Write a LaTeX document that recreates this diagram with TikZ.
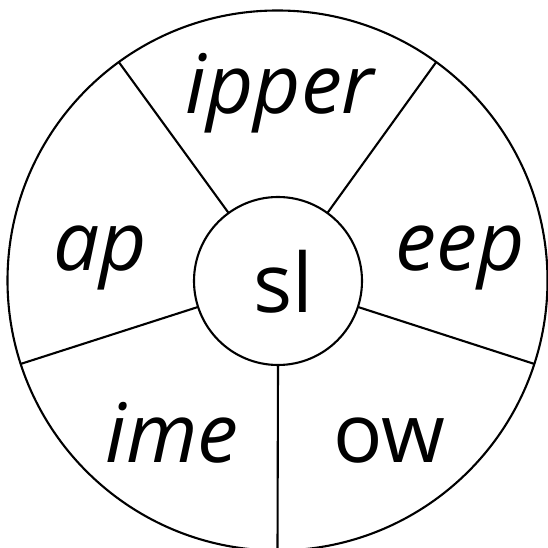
\documentclass[tikz,border=0pt]{standalone}
\usepackage{fontspec}
\setmainfont{Open Sans}
\usepackage{tikz}
\usetikzlibrary{shapes}

\begin{document}
\begin{tikzpicture}[x=1pt,y=1pt]
            \tikzstyle{wheel}=[circle, minimum size = 540pt, inner sep=0pt, outer sep=0pt, line width=2.1pt, draw = black]
            \tikzstyle{hub}=[circle, minimum size = 168pt, inner sep=0pt, outer sep=0pt, line width=2.1pt, draw = black, fill=white]
            \tikzstyle{spoke}=[line width=2.1pt]
            \tikzstyle{word}=[anchor=base, inner sep=0pt, font=\fontsize{82}{90}\selectfont]
            \useasboundingbox (0,0) rectangle (548,548);
            \node[wheel] (W) at (277.5,267.5){};
            \node[hub] (H) at (278,267){};
            \foreach \a in {-90,-18,54,126,198}
                \path[-] (H.\a) edge [spoke] (W.\a);
            \node[word] (Sl) at (283,235.2){sl};
            \node[word] (Ipper) at (280,434.4){\itshape ipper};
            \node[word] (Ap) at (100.5,277.1){\itshape ap};
            \node[word] (Eep) at (460,277){\itshape eep};
            \node[word] (Ime) at (172,85){\itshape ime};
            \node[word] (Ow) at (389,85){ow};
        \end{tikzpicture}
\end{document}
